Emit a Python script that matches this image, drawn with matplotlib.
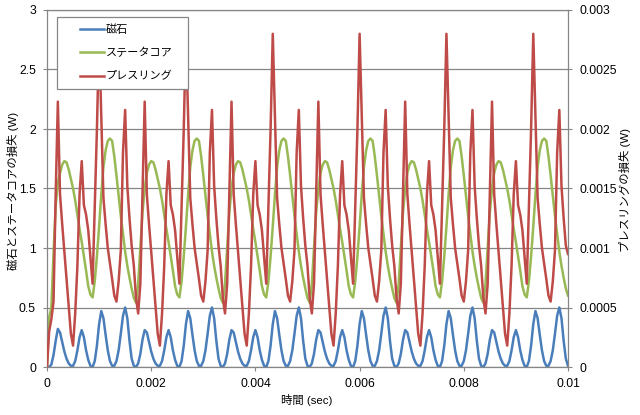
import numpy as np
import matplotlib
matplotlib.use("Agg")
import matplotlib.pyplot as plt
from matplotlib.legend_handler import HandlerLine2D

plt.rcParams['font.family'] = ['Liberation Sans', 'Noto Sans CJK JP']

# ---------------- data ----------------
t_start = 0.0
t_end = 0.01
n_samples = 241

series_names = ["磁石", "ステータコア", "プレスリング"]

# 磁石 (W)
magnet_loss = [
    0.00, 0.00, 0.02, 0.10, 0.22, 0.32, 0.29, 0.21, 0.13, 0.07, 0.03, 0.01, 0.01, 0.05, 0.14, 0.25, 0.31, 0.25, 0.14, 0.06,
    0.01, 0.00, 0.05, 0.18, 0.36, 0.47, 0.41, 0.27, 0.14, 0.05, 0.01, 0.01, 0.05, 0.14, 0.28, 0.43, 0.50, 0.41, 0.22, 0.07,
    0.01, 0.00, 0.03, 0.11, 0.23, 0.31, 0.29, 0.21, 0.13, 0.07, 0.03, 0.01, 0.01, 0.05, 0.14, 0.25, 0.31, 0.25, 0.14, 0.06,
    0.01, 0.00, 0.05, 0.18, 0.36, 0.47, 0.41, 0.27, 0.14, 0.05, 0.01, 0.01, 0.05, 0.14, 0.28, 0.43, 0.50, 0.41, 0.22, 0.07,
    0.01, 0.00, 0.03, 0.11, 0.23, 0.31, 0.29, 0.21, 0.13, 0.07, 0.03, 0.01, 0.01, 0.05, 0.14, 0.25, 0.31, 0.25, 0.14, 0.06,
    0.01, 0.00, 0.05, 0.18, 0.36, 0.47, 0.41, 0.27, 0.14, 0.05, 0.01, 0.01, 0.05, 0.14, 0.28, 0.43, 0.50, 0.41, 0.22, 0.07,
    0.01, 0.00, 0.03, 0.11, 0.23, 0.31, 0.29, 0.21, 0.13, 0.07, 0.03, 0.01, 0.01, 0.05, 0.14, 0.25, 0.31, 0.25, 0.14, 0.06,
    0.01, 0.00, 0.05, 0.18, 0.36, 0.47, 0.41, 0.27, 0.14, 0.05, 0.01, 0.01, 0.05, 0.14, 0.28, 0.43, 0.50, 0.41, 0.22, 0.07,
    0.01, 0.00, 0.03, 0.11, 0.23, 0.31, 0.29, 0.21, 0.13, 0.07, 0.03, 0.01, 0.01, 0.05, 0.14, 0.25, 0.31, 0.25, 0.14, 0.06,
    0.01, 0.00, 0.05, 0.18, 0.36, 0.47, 0.41, 0.27, 0.14, 0.05, 0.01, 0.01, 0.05, 0.14, 0.28, 0.43, 0.50, 0.41, 0.22, 0.07,
    0.01, 0.00, 0.03, 0.11, 0.23, 0.31, 0.29, 0.21, 0.13, 0.07, 0.03, 0.01, 0.01, 0.05, 0.14, 0.25, 0.31, 0.25, 0.14, 0.06,
    0.01, 0.00, 0.05, 0.18, 0.36, 0.47, 0.41, 0.27, 0.14, 0.05, 0.01, 0.01, 0.05, 0.14, 0.28, 0.43, 0.50, 0.41, 0.22, 0.07,
    0.01,
]

# ステータコア (W)
stator_loss = [
    0.00, 0.42, 0.50, 0.95, 1.35, 1.55, 1.63, 1.70, 1.73, 1.72, 1.66, 1.58, 1.50, 1.40, 1.28, 1.16, 1.05, 0.93, 0.81, 0.68,
    0.61, 0.585, 0.72, 0.93, 1.18, 1.45, 1.68, 1.82, 1.90, 1.92, 1.90, 1.77, 1.61, 1.44, 1.27, 1.12, 0.97, 0.85, 0.75, 0.66,
    0.58, 0.54, 0.70, 1.00, 1.30, 1.50, 1.63, 1.70, 1.73, 1.72, 1.66, 1.58, 1.50, 1.40, 1.28, 1.16, 1.05, 0.93, 0.81, 0.68,
    0.61, 0.585, 0.72, 0.93, 1.18, 1.45, 1.68, 1.82, 1.90, 1.92, 1.90, 1.77, 1.61, 1.44, 1.27, 1.12, 0.97, 0.85, 0.75, 0.66,
    0.58, 0.54, 0.70, 1.00, 1.30, 1.50, 1.63, 1.70, 1.73, 1.72, 1.66, 1.58, 1.50, 1.40, 1.28, 1.16, 1.05, 0.93, 0.81, 0.68,
    0.61, 0.585, 0.72, 0.93, 1.18, 1.45, 1.68, 1.82, 1.90, 1.92, 1.90, 1.77, 1.61, 1.44, 1.27, 1.12, 0.97, 0.85, 0.75, 0.66,
    0.58, 0.54, 0.70, 1.00, 1.30, 1.50, 1.63, 1.70, 1.73, 1.72, 1.66, 1.58, 1.50, 1.40, 1.28, 1.16, 1.05, 0.93, 0.81, 0.68,
    0.61, 0.585, 0.72, 0.93, 1.18, 1.45, 1.68, 1.82, 1.90, 1.92, 1.90, 1.77, 1.61, 1.44, 1.27, 1.12, 0.97, 0.85, 0.75, 0.66,
    0.58, 0.54, 0.70, 1.00, 1.30, 1.50, 1.63, 1.70, 1.73, 1.72, 1.66, 1.58, 1.50, 1.40, 1.28, 1.16, 1.05, 0.93, 0.81, 0.68,
    0.61, 0.585, 0.72, 0.93, 1.18, 1.45, 1.68, 1.82, 1.90, 1.92, 1.90, 1.77, 1.61, 1.44, 1.27, 1.12, 0.97, 0.85, 0.75, 0.66,
    0.58, 0.54, 0.70, 1.00, 1.30, 1.50, 1.63, 1.70, 1.73, 1.72, 1.66, 1.58, 1.50, 1.40, 1.28, 1.16, 1.05, 0.93, 0.81, 0.68,
    0.61, 0.585, 0.72, 0.93, 1.18, 1.45, 1.68, 1.82, 1.90, 1.92, 1.90, 1.77, 1.61, 1.44, 1.27, 1.12, 0.97, 0.85, 0.75, 0.66,
    0.60,
]

# プレスリング (mW, right axis)
press_ring_loss_mW = [
    0.00, 0.30, 0.40, 0.55, 1.45, 2.23, 1.45, 1.20, 0.97, 0.73, 0.50, 0.28, 0.18, 0.45, 0.85, 1.45, 1.73, 1.36, 1.28, 1.15,
    0.92, 0.70, 1.35, 2.00, 2.80, 2.10, 1.42, 1.20, 1.00, 0.87, 0.74, 0.60, 0.55, 0.72, 0.98, 1.80, 2.16, 1.52, 1.25, 1.02,
    0.85, 0.58, 0.45, 0.70, 1.45, 2.23, 1.45, 1.20, 0.97, 0.73, 0.50, 0.28, 0.18, 0.45, 0.85, 1.45, 1.73, 1.36, 1.28, 1.15,
    0.92, 0.70, 1.35, 2.00, 2.80, 2.10, 1.42, 1.20, 1.00, 0.87, 0.74, 0.60, 0.55, 0.72, 0.98, 1.80, 2.16, 1.52, 1.25, 1.02,
    0.85, 0.58, 0.45, 0.70, 1.45, 2.23, 1.45, 1.20, 0.97, 0.73, 0.50, 0.28, 0.18, 0.45, 0.85, 1.45, 1.73, 1.36, 1.28, 1.15,
    0.92, 0.70, 1.35, 2.00, 2.80, 2.10, 1.42, 1.20, 1.00, 0.87, 0.74, 0.60, 0.55, 0.72, 0.98, 1.80, 2.16, 1.52, 1.25, 1.02,
    0.85, 0.58, 0.45, 0.70, 1.45, 2.23, 1.45, 1.20, 0.97, 0.73, 0.50, 0.28, 0.18, 0.45, 0.85, 1.45, 1.73, 1.36, 1.28, 1.15,
    0.92, 0.70, 1.35, 2.00, 2.80, 2.10, 1.42, 1.20, 1.00, 0.87, 0.74, 0.60, 0.55, 0.72, 0.98, 1.80, 2.16, 1.52, 1.25, 1.02,
    0.85, 0.58, 0.45, 0.70, 1.45, 2.23, 1.45, 1.20, 0.97, 0.73, 0.50, 0.28, 0.18, 0.45, 0.85, 1.45, 1.73, 1.36, 1.28, 1.15,
    0.92, 0.70, 1.35, 2.00, 2.80, 2.10, 1.42, 1.20, 1.00, 0.87, 0.74, 0.60, 0.55, 0.72, 0.98, 1.80, 2.16, 1.52, 1.25, 1.02,
    0.85, 0.58, 0.45, 0.70, 1.45, 2.23, 1.45, 1.20, 0.97, 0.73, 0.50, 0.28, 0.18, 0.45, 0.85, 1.45, 1.73, 1.36, 1.28, 1.15,
    0.92, 0.70, 1.35, 2.00, 2.80, 2.10, 1.42, 1.20, 1.00, 0.87, 0.74, 0.60, 0.55, 0.72, 0.98, 1.80, 2.16, 1.52, 1.25, 1.02,
    0.95,
]

x_ticks = [0, 0.002, 0.004, 0.006, 0.008, 0.01]
x_tick_labels = ["0", "0.002", "0.004", "0.006", "0.008", "0.01"]
left_ticks = [0, 0.5, 1, 1.5, 2, 2.5, 3]
left_tick_labels = ["0", "0.5", "1", "1.5", "2", "2.5", "3"]
right_ticks = [0, 0.0005, 0.001, 0.0015, 0.002, 0.0025, 0.003]
right_tick_labels = ["0", "0.0005", "0.001", "0.0015", "0.002", "0.0025", "0.003"]

x_label = "時間 (sec)"
left_label = "磁石とステータコアの損失 (W)"
right_label = "プレスリングの損失 (W)"

# ---------------- plotting ----------------
time = np.linspace(t_start, t_end, n_samples)
press_ring_loss = np.array(press_ring_loss_mW) * 1e-3

W, H = 640, 415
fig = plt.figure(figsize=(W / 100, H / 100), dpi=100)
x0, x1, y0, y1 = 47, 568, 10, 367
ax = fig.add_axes([x0 / W, 1 - y1 / H, (x1 - x0) / W, (y1 - y0) / H])
ax2 = ax.twinx()

blue, green, red = "#4A7EBB", "#98B954", "#BE4B48"
lw = 1.8
l1, = ax.plot(time, magnet_loss, color=blue, lw=lw, label=series_names[0])
l2, = ax.plot(time, stator_loss, color=green, lw=lw, label=series_names[1])
l3, = ax2.plot(time, press_ring_loss, color=red, lw=lw, label=series_names[2])

ax.set_xlim(0, 0.01)
ax.set_ylim(0, 3)
ax2.set_ylim(0, 0.003)

gray = "#868686"
ax.set_xticks(x_ticks)
ax.set_xticklabels(x_tick_labels)
ax.set_yticks(left_ticks)
ax.set_yticklabels(left_tick_labels)
ax2.set_yticks(right_ticks)
ax2.set_yticklabels(right_tick_labels)

ax.yaxis.grid(True, color=gray, lw=0.9)
ax.set_axisbelow(True)

for a in (ax, ax2):
    for s in a.spines.values():
        s.set_color(gray)
        s.set_linewidth(0.9)
ax.spines['right'].set_visible(False)
ax2.spines['left'].set_visible(False)
ax2.spines['bottom'].set_visible(False)
ax2.spines['top'].set_visible(False)

tick_fs = 8.7
ax.tick_params(axis='x', labelsize=tick_fs, length=3, width=0.8, color=gray, pad=5, labelcolor='black')
ax.tick_params(axis='y', labelsize=tick_fs, length=3, width=0.8, color=gray, pad=5, labelcolor='black')
ax2.tick_params(axis='y', labelsize=tick_fs, length=3, width=0.8, color=gray, pad=5, labelcolor='black')

lab_fs = 8.2
fig.text(13.5 / W, 1 - 191 / H, left_label, rotation=90, ha='center', va='center', fontsize=lab_fs)
fig.text(625 / W, 1 - 190 / H, right_label, rotation=90, ha='center', va='center', fontsize=lab_fs)
fig.text(307 / W, 1 - 400 / H, x_label, ha='center', va='center', fontsize=lab_fs)


class ShiftedLineHandler(HandlerLine2D):
    def get_xdata(self, legend, xdescent, ydescent, width, height, fontsize):
        xa = -xdescent + width * 0.40
        xb = -xdescent + width
        return np.array([xa, xb]), np.array([(xa + xb) / 2])


handler = ShiftedLineHandler()
leg = ax2.legend([l1, l2, l3], series_names,
                 loc='upper left',
                 bbox_to_anchor=(57 / W, 1 - 87 / H, 131 / W, 70 / H),
                 bbox_transform=fig.transFigure, mode='expand',
                 frameon=True, fancybox=False, shadow=False,
                 edgecolor=gray, facecolor='white', framealpha=1,
                 borderpad=0.62, labelspacing=1.2, handlelength=3.6,
                 handletextpad=0.18, borderaxespad=0,
                 prop={'size': 8.0},
                 handler_map={l1: handler, l2: handler, l3: handler})
leg.get_frame().set_linewidth(0.9)

fig.savefig("out.png", dpi=100)
